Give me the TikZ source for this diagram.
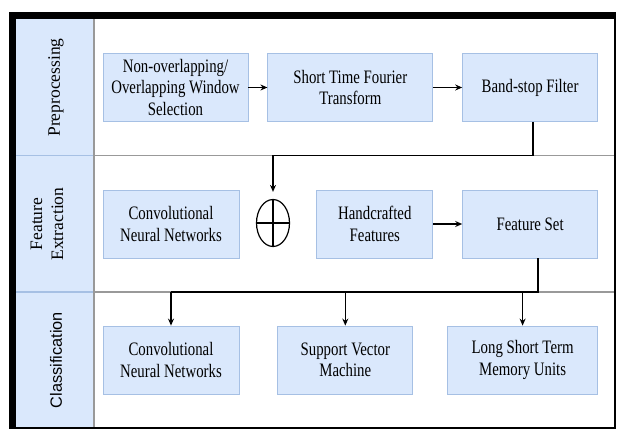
\documentclass[tikz,border=0pt]{standalone}
\usepackage{fontspec}
\setmainfont{Liberation Serif}
\setsansfont{Liberation Sans}
\newfontfamily\boxfont{Liberation Serif}[FakeStretch=0.78]
\usetikzlibrary{positioning,shapes.geometric,arrows.meta}
\definecolor{boxfill}{HTML}{DAE8FC}
\definecolor{boxline}{HTML}{A6C0E4}
\definecolor{laneline}{HTML}{999999}

\begin{document}
\begin{tikzpicture}[x=1pt, y=-1pt, node distance=19pt,
  block/.style={draw=boxline, fill=boxfill, line width=0.8pt, minimum height=68pt, align=center, inner sep=2pt, font=\boxfont\fontsize{19}{21.5}\selectfont},
  lane/.style={rotate=90, align=center, font=\fontsize{17.5}{21}\selectfont},
  flow/.style={-{Stealth[length=7pt,width=6pt]}, line width=1.5pt}]

  \useasboundingbox (0,0) rectangle (617,430);

  % Lanes
  \fill[boxfill] (16,19) rectangle (94,428);
  \coordinate (S1) at (94,155.7);
  \coordinate (S2) at (94,292);
  \draw[boxline, line width=1.2pt] (16,155.7) -- (S1) (16,292) -- (S2);
  \draw[laneline, line width=1.2pt] (S1) -- (615,155.7) (S2) -- (615,292);
  \draw[laneline, line width=1.2pt] (94,19) -- (94,428);

  % Pool border
  \fill (9,12) rectangle (616,19);
  \fill (9,12) rectangle (16,429);
  \draw[line width=2pt] (615,19) -- (615,428) -- (9,428);

  % Lane labels
  \node[lane] (L1) at (56,87.5) {Preprocessing};
  \node[lane] (L2) at (47,224) {Feature\\Extraction};
  \node[lane, font=\sffamily\fontsize{16.3}{20}\selectfont] (L3) at (56,360) {Classification};

  % First row
  \node[block, minimum width=145pt] (P1) at (175.5,87.5) {Non-overlapping/\\Overlapping Window\\Selection};
  \node[block, minimum width=165pt, right=19pt of P1] (P2) {Short Time Fourier\\Transform};
  \node[block, minimum width=135pt, right=29pt of P2] (P3) {Band-stop Filter};

  % Second row
  \node[block, minimum width=136pt] (F1) at (171,224) {Convolutional\\Neural Networks};
  \node[block, minimum width=116pt, right=77pt of F1] (F2) {Handcrafted\\Features};
  \node[block, minimum width=135pt, right=29pt of F2] (F3) {Feature Set};
  \node[draw, ellipse, minimum width=33pt, minimum height=47pt, inner sep=0pt, line width=1.2pt] (plus) at (273,223) {};
  \draw[line width=1.2pt] (plus.north) -- (plus.south) (plus.west) -- (plus.east);

  % Third row
  \node[block, minimum width=136pt] (C1) at (171,360) {Convolutional\\Neural Networks};
  \node[block, minimum width=135pt, right=38pt of C1] (C2) {Support Vector\\Machine};
  \node[block, minimum width=150pt, right=34pt of C2] (C3) {Long Short Term\\Memory Units};

  % Arrows
  \draw[flow] (P1) -- (P2);
  \draw[flow] (P2) -- (P3);
  \draw[flow] (F2) -- (F3);
  \draw[flow, shorten >=7pt] ([xshift=3pt]P3.south) |- (plus |- S1) -- (plus.north);
  \draw[line width=1.5pt] ([xshift=8pt]F3.south) |- (C1 |- S2);
  \draw[flow] (C1 |- S2) -- (C1.north);
  \draw[flow] (C2 |- S2) -- (C2.north);
  \draw[flow] (C3 |- S2) -- (C3.north);

\end{tikzpicture}
\end{document}
